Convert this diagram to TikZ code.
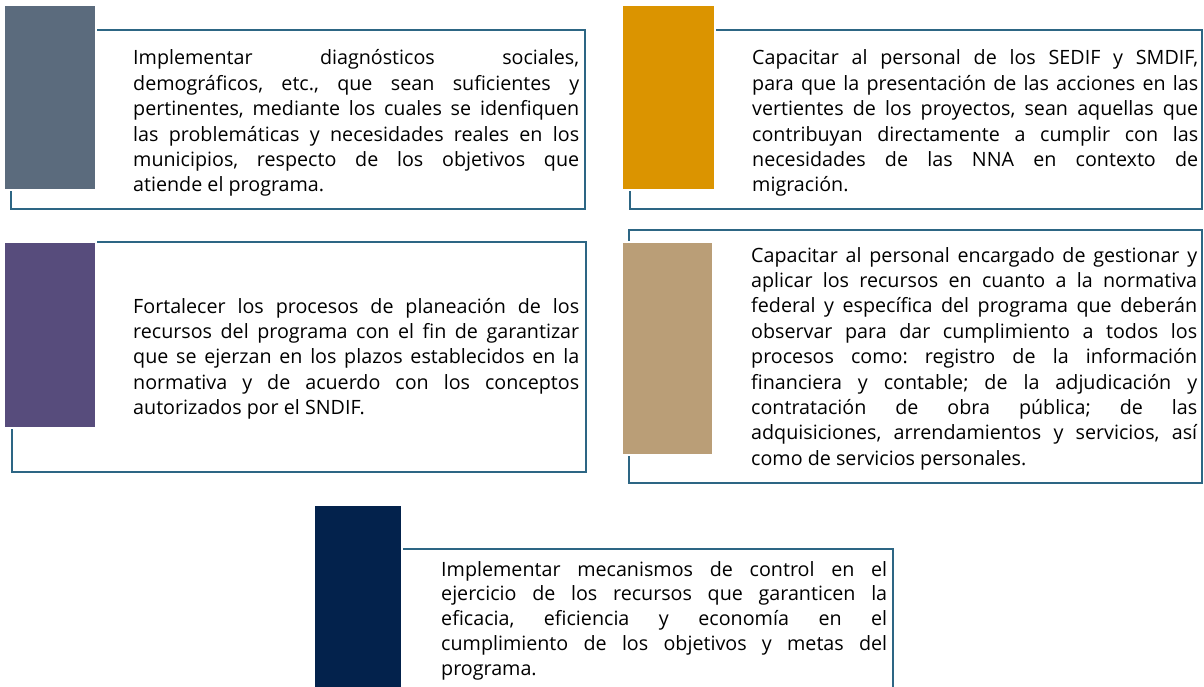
\documentclass[tikz,border=0pt]{standalone}
\usepackage{fontspec}
\setmainfont{Open Sans}
\definecolor{cslate}{HTML}{5B6B7D}
\definecolor{corange}{HTML}{DB9400}
\definecolor{cpurple}{HTML}{574C7C}
\definecolor{ctan}{HTML}{BA9E77}
\definecolor{cnavy}{HTML}{03224C}
\definecolor{cframe}{HTML}{2D6684}
\hbadness=10000
\hfuzz=50pt
\frenchspacing
\newcommand\jl[1]{\hbox to 446pt{\strut #1}}
\newcommand\lastline[1]{\hbox{\strut #1}}
\tikzset{
  frame/.style={draw=cframe, line width=1.6pt},
  thinframe/.style={draw=cframe, line width=1.2pt},
  bar/.style={fill=#1, draw=white, line width=1.2pt},
  txt/.style={anchor=base west, inner sep=0pt, text=black, font=\frenchspacing\fontsize{19.7}{25.4}\selectfont},
  txtb/.style={txt, font=\frenchspacing\fontsize{19.7}{24.9}\selectfont},
}
\begin{document}
\begin{tikzpicture}[x=1pt,y=-1pt]
\useasboundingbox[fill=white] (0,0) rectangle (1204,687);
% frames
\draw[frame] (11,30) rectangle (585,209);
\draw[frame] (630,30) rectangle (1202,209);
\draw[frame] (12,242) rectangle (586,472);
\draw[frame] (629,230) rectangle (1202,483);
\draw[thinframe] (402,549) rectangle (893,720);
% colour bars
\path[bar=cslate] (4,5) rectangle (96,190);
\path[bar=corange] (622,5) rectangle (715,190);
\path[bar=cpurple] (4,242) rectangle (96,428);
\path[bar=ctan] (622,242) rectangle (713,455);
\path[bar=cnavy] (314,505) rectangle (402,720);
% texts
\node[txt] (t1) at (133,65) {\vtop{%
\jl{Implementar diagnósticos sociales,}
\jl{demográficos, etc., que sean suficientes y}
\jl{pertinentes, mediante los cuales se idenfiquen}
\jl{las problemáticas y necesidades reales en los}
\jl{municipios, respecto de los objetivos que}
\lastline{atiende el programa.}}};
\node[txt] (t2) at (752,65) {\vtop{%
\jl{Capacitar al personal de los SEDIF y SMDIF,}
\jl{para que la presentación de las acciones en las}
\jl{vertientes de los proyectos, sean aquellas que}
\jl{contribuyan directamente a cumplir con las}
\jl{necesidades de las NNA en contexto de}
\lastline{migración.}}};
\node[txt] (t3) at (133,313) {\vtop{%
\jl{Fortalecer los procesos de planeación de los}
\jl{recursos del programa con el fin de garantizar}
\jl{que se ejerzan en los plazos establecidos en la}
\jl{normativa y de acuerdo con los conceptos}
\lastline{autorizados por el SNDIF.}}};
\node[txt] (t4) at (751,262) {\vtop{%
\jl{Capacitar al personal encargado de gestionar y}
\jl{aplicar los recursos en cuanto a la normativa}
\jl{federal y específica del programa que deberán}
\jl{observar para dar cumplimiento a todos los}
\jl{procesos como: registro de la información}
\jl{financiera y contable; de la adjudicación y}
\jl{contratación de obra pública; de las}
\jl{adquisiciones, arrendamientos y servicios, así}
\lastline{como de servicios personales.}}};
\node[txtb] (t5) at (441,576) {\vtop{%
\jl{Implementar mecanismos de control en el}
\jl{ejercicio de los recursos que garanticen la}
\jl{eficacia, eficiencia y economía en el}
\jl{cumplimiento de los objetivos y metas del}
\lastline{programa.}}};
\end{tikzpicture}
\end{document}
